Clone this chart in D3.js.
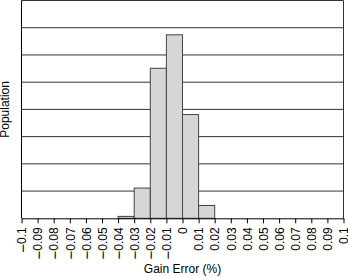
<!DOCTYPE html>
<html><head><meta charset="utf-8">
<script src="https://cdn.jsdelivr.net/npm/d3@7"></script>
<style>
body{margin:0;background:#fff;}
svg{display:block;font-family:"Liberation Sans",Arial,Helvetica,sans-serif;}
</style></head><body>
<svg id="c" width="348" height="277"></svg>
<script>
const binStarts = [-0.04, -0.03, -0.02, -0.01, 0, 0.01];
const binWidth = 0.01;
const counts = [0.07, 1.11, 5.51, 6.74, 3.81, 0.47];
const xTicks = [-0.1,-0.09,-0.08,-0.07,-0.06,-0.05,-0.04,-0.03,-0.02,-0.01,0,0.01,0.02,0.03,0.04,0.05,0.06,0.07,0.08,0.09,0.1];
const xTickLabels = ["−0.1","−0.09","−0.08","−0.07","−0.06","−0.05","−0.04","−0.03","−0.02","−0.01","0","0.01","0.02","0.03","0.04","0.05","0.06","0.07","0.08","0.09","0.1"];
const yGrid = [1,2,3,4,5,6,7,8];

const svg = d3.select("#c");
const L = 21.5, R = 343.5, T = 0.5, B = 218.3;
const x = d3.scaleLinear().domain([-0.1, 0.1]).range([L, R]);
const y = d3.scaleLinear().domain([0, 8]).range([B, T]);

// gridlines
svg.append("g").selectAll("line").data(yGrid).join("line")
  .attr("x1", L).attr("x2", R)
  .attr("y1", d => y(d)).attr("y2", d => y(d))
  .attr("stroke", "#333").attr("stroke-width", 1);

// bars
svg.append("g").selectAll("rect").data(binStarts).join("rect")
  .attr("x", d => x(d))
  .attr("width", d => x(d + binWidth) - x(d))
  .attr("y", (d, i) => y(counts[i]))
  .attr("height", (d, i) => B - y(counts[i]))
  .attr("fill", "#d6d6d6").attr("stroke", "#444").attr("stroke-width", 1);

// right border
svg.append("line").attr("x1", R).attr("x2", R).attr("y1", T).attr("y2", B)
  .attr("stroke", "#333").attr("stroke-width", 1);

// y axis line
svg.append("line").attr("x1", L).attr("x2", L).attr("y1", T).attr("y2", B)
  .attr("stroke", "#000").attr("stroke-width", 1);

// x axis
const xAxis = d3.axisBottom(x).tickValues(xTicks).tickSize(5).tickSizeOuter(0)
  .tickFormat(() => "");
const gx = svg.append("g").attr("transform", `translate(0,${B})`).call(xAxis);
gx.select(".domain").attr("stroke", "#000");
gx.selectAll(".tick line").attr("stroke", "#000");
gx.selectAll(".tick text").each(function(d, i) {
  const t = d3.select(this)
    .attr("font-size", 12).attr("fill", "#000")
    .attr("font-family", "Liberation Sans, Arial, sans-serif")
    .attr("text-anchor", "end")
    .attr("transform", "rotate(-90)")
    .attr("x", -9).attr("y", 0).attr("dy", null);
  const lab = xTickLabels[i];
  if (lab.startsWith("−")) {
    t.append("tspan").attr("font-size", 15).attr("dy", 5.6).text("−");
    t.append("tspan").attr("dy", -1.4).text(lab.slice(1));
  } else {
    t.attr("dy", 4.2).text(lab);
  }
});

// axis titles
svg.append("text").attr("x", (L + R) / 2).attr("y", 273)
  .attr("text-anchor", "middle").attr("font-size", 12).attr("fill", "#000")
  .text("Gain Error (%)");
svg.append("text").attr("transform", `translate(9,${(T + B) / 2}) rotate(-90)`)
  .attr("text-anchor", "middle").attr("font-size", 12).attr("fill", "#000")
  .text("Population");
</script>
</body></html>
